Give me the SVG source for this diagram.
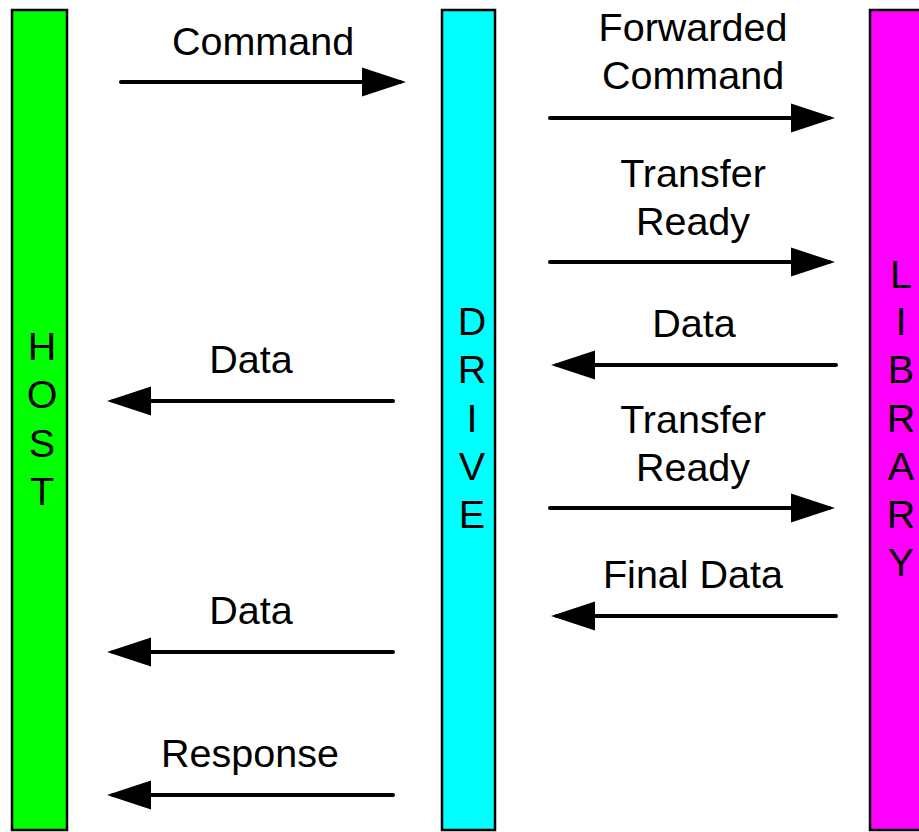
<svg xmlns="http://www.w3.org/2000/svg" width="919" height="832" viewBox="0 0 919 832">
<defs>
<style>
.bar{stroke:#000;stroke-width:2.5}
.t{font-family:"Liberation Sans",Arial,sans-serif;font-size:39.5px;fill:#000;text-anchor:middle}
.c{stroke:#000;stroke-width:4;stroke-linecap:round;fill:none}
</style>
<marker id="ah" markerUnits="userSpaceOnUse" markerWidth="46" markerHeight="32" refX="38" refY="16" orient="auto">
<path d="M0,1.5 L44,16 L0,30.5 Z" fill="#000"/>
</marker>
</defs>
<rect width="919" height="832" fill="#fff"/>
<g id="host">
<rect class="bar" x="12" y="10" width="55" height="820" fill="#00ff00"/>
<text class="t" x="42" y="360">H</text>
<text class="t" x="42" y="408">O</text>
<text class="t" x="42" y="457">S</text>
<text class="t" x="42" y="505">T</text>
</g>
<g id="drive">
<rect class="bar" x="442" y="10" width="53" height="820" fill="#00ffff"/>
<text class="t" x="472" y="335">D</text>
<text class="t" x="472" y="383">R</text>
<text class="t" x="472" y="432">I</text>
<text class="t" x="472" y="480">V</text>
<text class="t" x="472" y="528">E</text>
</g>
<g id="library">
<rect class="bar" x="870" y="10" width="60" height="820" fill="#ff00ff"/>
<text class="t" x="901" y="288">L</text>
<text class="t" x="901" y="335">I</text>
<text class="t" x="901" y="383">B</text>
<text class="t" x="901" y="432">R</text>
<text class="t" x="901" y="480">A</text>
<text class="t" x="901" y="528">R</text>
<text class="t" x="901" y="576">Y</text>
</g>
<g id="connectors">
<line class="c" x1="121" y1="82" x2="400" y2="82" marker-end="url(#ah)"/>
<line class="c" x1="550" y1="118" x2="829" y2="118" marker-end="url(#ah)"/>
<line class="c" x1="550" y1="262" x2="829" y2="262" marker-end="url(#ah)"/>
<line class="c" x1="836" y1="365" x2="557" y2="365" marker-end="url(#ah)"/>
<line class="c" x1="550" y1="508" x2="829" y2="508" marker-end="url(#ah)"/>
<line class="c" x1="836" y1="616" x2="557" y2="616" marker-end="url(#ah)"/>
<line class="c" x1="393" y1="401" x2="113" y2="401" marker-end="url(#ah)"/>
<line class="c" x1="393" y1="652" x2="113" y2="652" marker-end="url(#ah)"/>
<line class="c" x1="393" y1="795" x2="113" y2="795" marker-end="url(#ah)"/>
</g>
<g id="labels">
<text class="t" x="263" y="55">Command</text>
<text class="t" x="693" y="41">Forwarded</text>
<text class="t" x="693" y="89">Command</text>
<text class="t" x="693" y="187">Transfer</text>
<text class="t" x="693" y="235">Ready</text>
<text class="t" x="694" y="337">Data</text>
<text class="t" x="693" y="433">Transfer</text>
<text class="t" x="693" y="481">Ready</text>
<text class="t" x="693" y="588">Final Data</text>
<text class="t" x="251" y="373">Data</text>
<text class="t" x="251" y="624">Data</text>
<text class="t" x="250" y="767">Response</text>
</g>
</svg>
